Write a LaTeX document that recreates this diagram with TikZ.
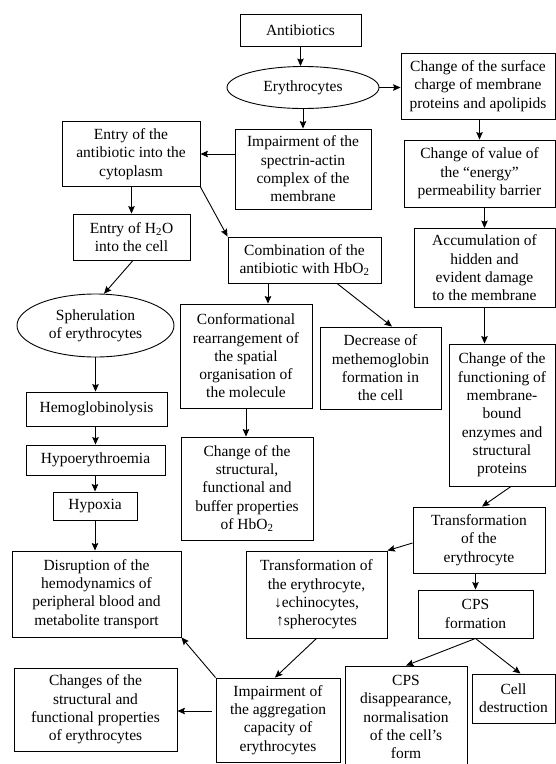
\documentclass[tikz,border=0pt]{standalone}
\usepackage{fontspec}
\setmainfont{Liberation Serif}
\usetikzlibrary{arrows.meta,shapes.geometric,calc}
\begin{document}
\begin{tikzpicture}[x=1pt,y=-1pt,
  box/.style={draw, line width=0.9pt, align=center, inner sep=0pt,
    font=\fontsize{15.5}{18.3}\selectfont},
  oval/.style={box, ellipse},
  arr/.style={line width=0.9pt, -{Stealth[length=7.5pt,width=6.5pt,inset=1.2pt]}}]
\useasboundingbox (0,0) rectangle (556,764);
\fill[white] (0,0) rectangle (556,764);
% nodes
\node[box, minimum width=121, minimum height=32] (anti) at (300.5,30) {Antibiotics};
\node[oval, minimum width=152, minimum height=42] (ery) at (303,87.5) {Erythrocytes};
\node[box, minimum width=154, minimum height=66] (surf) at (478,86) {Change of the surface\\charge of membrane\\proteins and apolipids};
\node[box, minimum width=136, minimum height=80] (imp) at (303,169) {Impairment of the\\spectrin-actin\\complex of the\\membrane};
\node[box, minimum width=138, minimum height=65] (entryA) at (131,154) {Entry of the\\antibiotic into the\\cytoplasm};
\node[box, minimum width=151, minimum height=67] (energy) at (479.5,173.5) {Change of value of\\the ``energy''\\permeability barrier};
\node[box, minimum width=117, minimum height=46] (h2o) at (131.5,237) {Entry of H\textsubscript{2}O\\into the cell};
\node[box, minimum width=153, minimum height=46] (comb) at (304.5,260) {Combination of the\\antibiotic with HbO\textsubscript{2}};
\node[box, minimum width=141, minimum height=79] (accum) at (484.5,268) {Accumulation of\\hidden and\\evident damage\\to the membrane};
\node[oval, minimum width=157, minimum height=63] (spher) at (95.5,325.5) {Spherulation\\of erythrocytes};
\node[box, minimum width=132, minimum height=104] (conf) at (246,356) {Conformational\\rearrangement of\\the spatial\\organisation of\\the molecule};
\node[box, minimum width=121, minimum height=82] (decr) at (380.5,368) {Decrease of\\methemoglobin\\formation in\\the cell};
\node[box, minimum width=106, minimum height=142] (func) at (502,415) {Change of the\\functioning of\\membrane-\\bound\\enzymes and\\structural\\proteins};
\node[box, minimum width=141, minimum height=34] (hemo) at (96.5,409) {Hemoglobinolysis};
\node[box, minimum width=139, minimum height=30] (hypoe) at (95.5,460) {Hypoerythroemia};
\node[box, minimum width=84, minimum height=28] (hypox) at (95,506) {Hypoxia};
\node[box, minimum width=132, minimum height=103] (struct) at (247,488.5) {Change of the\\structural,\\functional and\\buffer properties\\of HbO\textsubscript{2}};
\node[box, minimum width=132, minimum height=66] (transR) at (479,540) {Transformation\\of the\\erythrocyte};
\node[box, minimum width=141, minimum height=87] (transL) at (316.5,594.5) {Transformation of\\the erythrocyte,\\↓echinocytes,\\↑spherocytes};
\node[box, minimum width=115, minimum height=48] (cpsf) at (475.5,614) {CPS\\formation};
\node[box, minimum width=122, minimum height=102] (cpsd) at (406,717) {CPS\\disappearance,\\normalisation\\of the cell’s\\form};
\node[box, minimum width=83, minimum height=49] (cell) at (513.5,698.5) {Cell\\destruction};
\node[box, minimum width=124, minimum height=84] (agg) at (278,720) {Impairment of\\the aggregation\\capacity of\\erythrocytes};
\node[box, minimum width=169, minimum height=86] (disr) at (96.5,594) {Disruption of the\\hemodynamics of\\peripheral blood and\\metabolite transport};
\node[box, minimum width=163, minimum height=83] (changes) at (95.5,709.5) {Changes of the\\structural and\\functional properties\\of erythrocytes};
% helper coordinates
\coordinate (c1) at ($(comb.south)+(-36.5,0)$);
\coordinate (c2) at ($(comb.south)+(32.5,0)$);
\coordinate (c3) at ($(decr.north)+(11.5,0)$);
\coordinate (c4) at ($(func.south)+(9,0)$);
\coordinate (c5) at ($(transR.north)+(3,0)$);
\coordinate (c6) at ($(transR.west)+(0,3)$);
\coordinate (c7) at ($(cell.north)+(7,0)$);
\coordinate (c8) at ($(agg.north)+(-3,0)$);
\coordinate (c9) at ($(agg.west)+(-4,-9)$);
\coordinate (c10) at ($(h2o.south)+(1.5,0)$);
% connectors
\draw[arr] (anti.south) -- (anti.south |- ery.north);
\draw[arr] (ery.east) -- (ery.east -| surf.west);
\draw[arr] (ery.south) -- (ery.south |- imp.north);
\draw[arr] (imp.west |- entryA.east) -- (entryA.east);
\draw[arr] (energy.north |- surf.south) -- (energy.north);
\draw[arr] (accum.north |- energy.south) -- (accum.north);
\draw[arr] (h2o.north |- entryA.south) -- (h2o.north);
\draw[arr] (entryA.south east) -- (comb.north west);
\draw[arr] (c10) -- (spher.75);
\draw[arr] (spher.south) -- (spher.south |- hemo.north);
\draw[arr] (hemo.south -| hypoe.north) -- (hypoe.north);
\draw[arr] (hypoe.south -| hypox.north) -- (hypox.north);
\draw[arr] (hypox.south) -- (hypox.south |- disr.north);
\draw[arr] (c1) -- (c1 |- conf.north);
\draw[arr] (c2) -- (c3);
\draw[arr] (accum.south) -- (accum.south |- func.north);
\draw[arr] (conf.south) -- (conf.south |- struct.north);
\draw[arr] (c4) -- (c5);
\draw[arr] (c6) -- (transL.north east);
\draw[arr] (transR.south -| cpsf.north) -- (cpsf.north);
\draw[arr] (cpsf.south) -- (cpsd.north);
\draw[arr] (cpsf.south) -- (c7);
\draw[arr] (transL.south) -- (c8);
\draw[arr] (agg.north west) -- (disr.south east);
\draw[arr] (c9) -- (c9 -| changes.east);
\end{tikzpicture}
\end{document}
